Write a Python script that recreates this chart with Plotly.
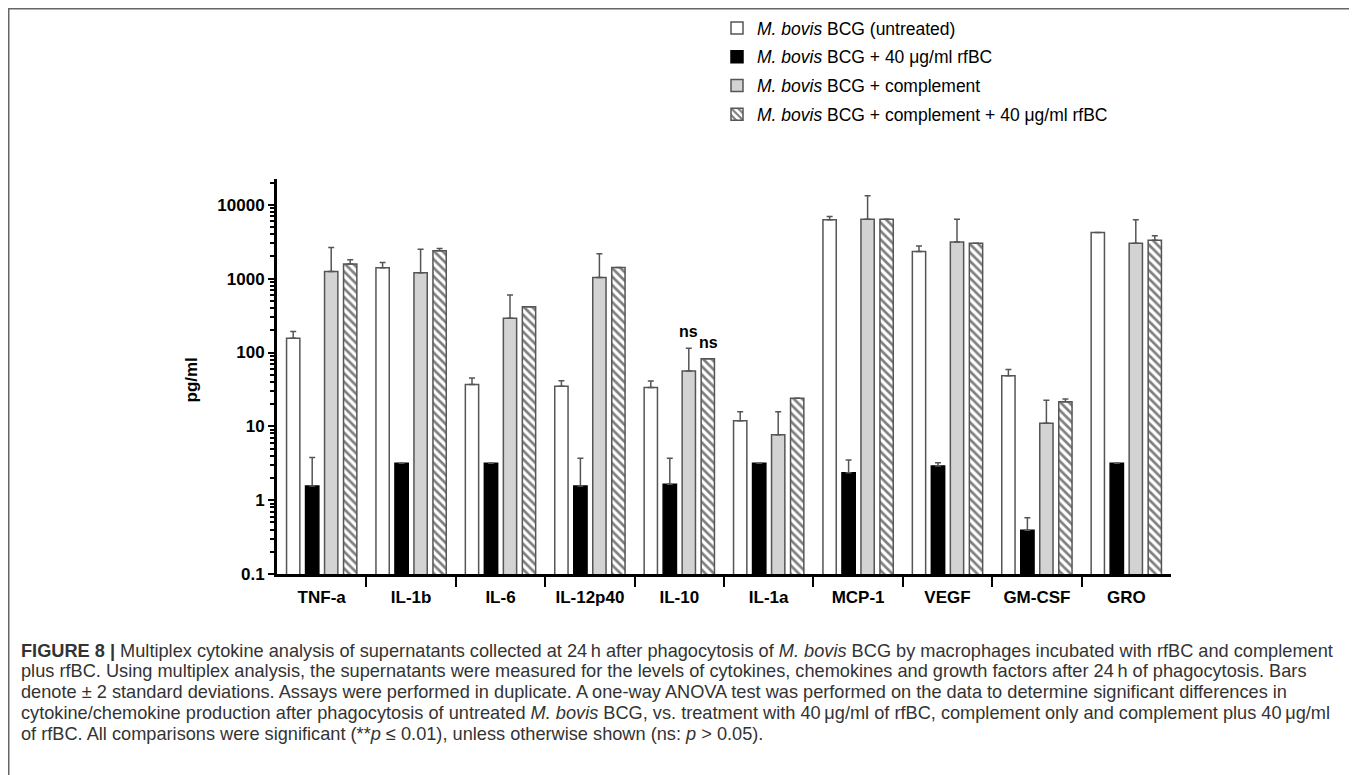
import plotly.graph_objects as go

# ---------------- data ----------------
categories = ["TNF-a", "IL-1b", "IL-6", "IL-12p40", "IL-10", "IL-1a", "MCP-1", "VEGF", "GM-CSF", "GRO"]

untreated = [156, 1410, 37, 35, 33.5, 11.9, 6270, 2330, 48.6, 4220]
untreated_top = [192, 1650, 45, 41.5, 41, 15.8, 6930, 2780, 59, None]

rfbc = [1.56, 3.16, 3.16, 1.56, 1.64, 3.16, 2.36, 2.9, 0.39, 3.16]
rfbc_top = [3.77, None, None, 3.7, 3.7, None, 3.5, 3.2, 0.58, None]

complement = [1250, 1200, 291, 1035, 56, 7.7, 6400, 3150, 11.0, 3030]
complement_top = [2640, 2510, 603, 2170, 114, 15.8, 13250, 6400, 22.5, 6270]

comp_rfbc = [1585, 2380, 415, 1413, 82, 24, 6400, 3030, 21.6, 3325]
comp_rfbc_top = [1800, 2560, None, None, None, None, None, None, 23.5, 3800]

series_names = [
    "<i>M. bovis</i> BCG (untreated)",
    "<i>M. bovis</i> BCG + 40 \u03bcg/ml rfBC",
    "<i>M. bovis</i> BCG + complement",
    "<i>M. bovis</i> BCG + complement + 40 \u03bcg/ml rfBC",
]

ytickvals = [0.1, 1, 10, 100, 1000, 10000]
yticktext = ["0.1", "1", "10", "100", "1000", "10000"]

caption_lines = [
    "<b>FIGURE 8 |</b> Multiplex cytokine analysis of supernatants collected at 24\u2009h after phagocytosis of <i>M. bovis</i> BCG by macrophages incubated with rfBC and complement",
    "plus rfBC. Using multiplex analysis, the supernatants were measured for the levels of cytokines, chemokines and growth factors after 24\u2009h of phagocytosis. Bars",
    "denote \u00b1 2 standard deviations. Assays were performed in duplicate. A one-way ANOVA test was performed on the data to determine significant differences in",
    "cytokine/chemokine production after phagocytosis of untreated <i>M. bovis</i> BCG, vs. treatment with 40\u2009\u03bcg/ml of rfBC, complement only and complement plus 40\u2009\u03bcg/ml",
    "of rfBC. All comparisons were significant (**<i>p</i> \u2264 0.01), unless otherwise shown (ns: <i>p</i> > 0.05).",
]

# ---------------- layout geometry (screen pixels) ----------------
OFF = 8                      # page body margin of the written html
W, H = 1357 - OFF, 775 - OFF
L, R, T, B = 277, 1171, 179, 574   # plot area in screen pixels
PW, PH = R - L, B - T


def px_x(x):
    return (x - L) / PW


def px_y(y):
    return (B - y) / PH


def plus(vals, tops):
    return [(t - v) if t is not None else None for v, t in zip(vals, tops)]


xs = list(range(len(categories)))
edge = "#555555"
bargap, bargroupgap = 0.15, 0.30
FONT = "Liberation Sans, Arial"

fig = go.Figure()
styles = [
    dict(color="white", line=dict(color=edge, width=1.5)),
    dict(color="black", line=dict(color="black", width=1.5)),
    dict(color="#d3d3d3", line=dict(color=edge, width=1.5)),
    dict(color="white", line=dict(color=edge, width=1.5),
         pattern=dict(shape="\\", fgcolor="black", bgcolor="white", size=6, solidity=0.45)),
]
vals_list = [untreated, rfbc, complement, comp_rfbc]
tops_list = [untreated_top, rfbc_top, complement_top, comp_rfbc_top]

for i, (name, vals, tops, st) in enumerate(zip(series_names, vals_list, tops_list, styles)):
    fig.add_trace(go.Bar(
        x=xs, y=vals, name=name, marker=st, legendgroup=f"g{i}",
        error_y=dict(type="data", symmetric=False, array=plus(vals, tops),
                     arrayminus=[0] * len(vals), color=edge, thickness=1.5, width=3),
    ))

# "ns" labels over IL-10 complement groups
slot = (1 - bargap) / 4
idx = categories.index("IL-10")
fig.add_annotation(x=idx + 0.5 * slot, y=2.29, xref="x", yref="y", text="<b>ns</b>",
                   showarrow=False, font=dict(size=16, color="black", family=FONT))
fig.add_annotation(x=idx + 1.5 * slot, y=2.13, xref="x", yref="y", text="<b>ns</b>",
                   xshift=1, showarrow=False, font=dict(size=16, color="black", family=FONT))

# y-axis title
fig.add_annotation(x=px_x(179), y=px_y(380), xref="paper", yref="paper", text="<b>pg/ml</b>",
                   textangle=-90, showarrow=False,
                   font=dict(size=17, color="black", family=FONT))

# caption
cap_y = [651, 671, 692, 713, 734]
for line, yy in zip(caption_lines, cap_y):
    fig.add_annotation(x=px_x(19), y=px_y(yy), xref="paper", yref="paper", text=line,
                       xanchor="left", yanchor="middle", showarrow=False, align="left",
                       font=dict(size=18.2, color="#333333", family=FONT))

# outer frame
fig.add_shape(type="rect", xref="paper", yref="paper",
              x0=px_x(OFF + 0.5), x1=px_x(1355), y0=px_y(800), y1=px_y(OFF + 0.5),
              line=dict(color="#666666", width=2), fillcolor="rgba(0,0,0,0)", layer="below")

fig.update_layout(
    width=W, height=H,
    margin=dict(l=L - OFF, r=(1357 - OFF) - (R - OFF), t=T - OFF, b=H - (B - OFF), autoexpand=False),
    paper_bgcolor="white", plot_bgcolor="white",
    barmode="group", bargap=bargap, bargroupgap=bargroupgap,
    showlegend=True,
    legend=dict(x=px_x(717), y=px_y(10), xanchor="left", yanchor="top",
                traceorder="grouped", tracegroupgap=3, bgcolor="rgba(0,0,0,0)",
                font=dict(size=17.5, color="black", family=FONT)),
    font=dict(family=FONT, color="black"),
    xaxis=dict(range=[-0.5, 9.5], tickmode="array", tickvals=xs, ticktext=categories,
               ticks="", showline=True, linewidth=3, linecolor="black", showgrid=False,
               zeroline=False, ticklabelstandoff=6,
               tickfont=dict(size=17, color="black", weight="bold"),
               minor=dict(tickmode="array", tickvals=[k + 0.5 for k in xs[:-1]], ticks="outside",
                          ticklen=10, tickwidth=2, tickcolor="black", showgrid=False)),
    yaxis=dict(type="log", range=[-1, 4.35], tickmode="array", tickvals=ytickvals, ticktext=yticktext,
               ticks="outside", ticklen=6, tickwidth=2, tickcolor="black",
               showline=True, linewidth=3, linecolor="black", showgrid=False, zeroline=False,
               tickfont=dict(size=17, color="black", weight="bold"),
               minor=dict(ticks="outside", ticklen=4, tickwidth=1.5, tickcolor="black",
                          dtick="D1", showgrid=False)),
)

fig.write_html("out.html")
